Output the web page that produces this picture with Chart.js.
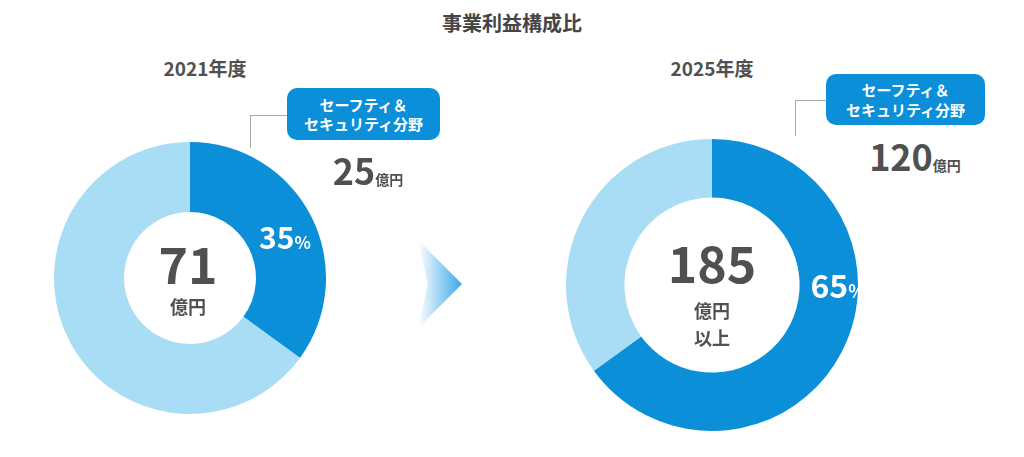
<!DOCTYPE html>
<html><head><meta charset="utf-8">
<script src="https://cdn.jsdelivr.net/npm/chart.js@4/dist/chart.umd.min.js"></script>
<style>
body{margin:0;width:1024px;height:457px;background:#fff;position:relative;overflow:hidden;font-family:"Noto Sans CJK JP","Noto Sans",sans-serif;color:#505050}
.t{position:absolute;transform:translate(-50%,-50%);white-space:nowrap;font-weight:bold;text-align:center;line-height:1.15}
canvas{position:absolute}
.box{position:absolute;background:#0a8fd8;color:#fff;border-radius:10px;font-weight:bold;font-size:15px;text-align:center;line-height:1.3;display:flex;align-items:center;justify-content:center}
.ln{position:absolute;background:#aaa}
</style></head><body>
<div class="t" style="left:512px;top:22px;font-size:20px;color:#444">事業利益構成比</div>
<div class="t" style="left:205px;top:68px;font-size:19px">2021年度</div>
<div class="t" style="left:712px;top:68px;font-size:19px">2025年度</div>
<canvas id="c1" width="272" height="272" style="left:54px;top:142px"></canvas>
<canvas id="c2" width="292" height="292" style="left:566px;top:139px"></canvas>
<div style="position:absolute;left:418px;top:240px;width:44px;height:88px;clip-path:polygon(0 0,100% 50%,0 100%,22% 50%);background:linear-gradient(90deg,#fff,#3aa6e8)"></div>
<div class="ln" style="left:250px;top:115px;width:37px;height:1px"></div>
<div class="ln" style="left:250px;top:115px;width:1px;height:33px"></div>
<div class="ln" style="left:795px;top:100px;width:31px;height:1px"></div>
<div class="ln" style="left:795px;top:100px;width:1px;height:36px"></div>
<div class="box" style="left:287px;top:88px;width:153px;height:52px">セーフティ＆<br>セキュリティ分野</div>
<div class="box" style="left:826px;top:74px;width:159px;height:51px">セーフティ＆<br>セキュリティ分野</div>
<div class="t" style="left:368px;top:170px;font-size:36px"><span>25</span><span style="font-size:14px">億円</span></div>
<div class="t" style="left:915px;top:156px;font-size:36px"><span>120</span><span style="font-size:14px">億円</span></div>
<div class="t" style="left:285px;top:236px;font-size:30px;color:#fff">35<span style="font-size:17px">%</span></div>
<div class="t" style="left:838px;top:284px;font-size:32px;color:#fff">65<span style="font-size:18px">%</span></div>
<div class="t" style="left:188px;top:263px;font-size:50px">71</div>
<div class="t" style="left:188px;top:306px;font-size:18px">億円</div>
<div class="t" style="left:712px;top:262px;font-size:50px">185</div>
<div class="t" style="left:712px;top:324px;font-size:18px;line-height:1.5">億円<br>以上</div>
<script>
const categories=["セーフティ＆セキュリティ分野","その他"];
const values2021=[35,65];
const values2025=[65,35];
const colors=["#0a8fd8","#a9dcf5"];
function make(id,vals,cut){
 new Chart(document.getElementById(id),{type:'doughnut',
  data:{labels:categories,datasets:[{data:vals,backgroundColor:colors,borderWidth:0}]},
  options:{responsive:false,animation:false,cutout:cut,plugins:{legend:{display:false},tooltip:{enabled:false}}}});
}
make('c1',values2021,'48.5%');
make('c2',values2025,'60%');
</script>
</body></html>
